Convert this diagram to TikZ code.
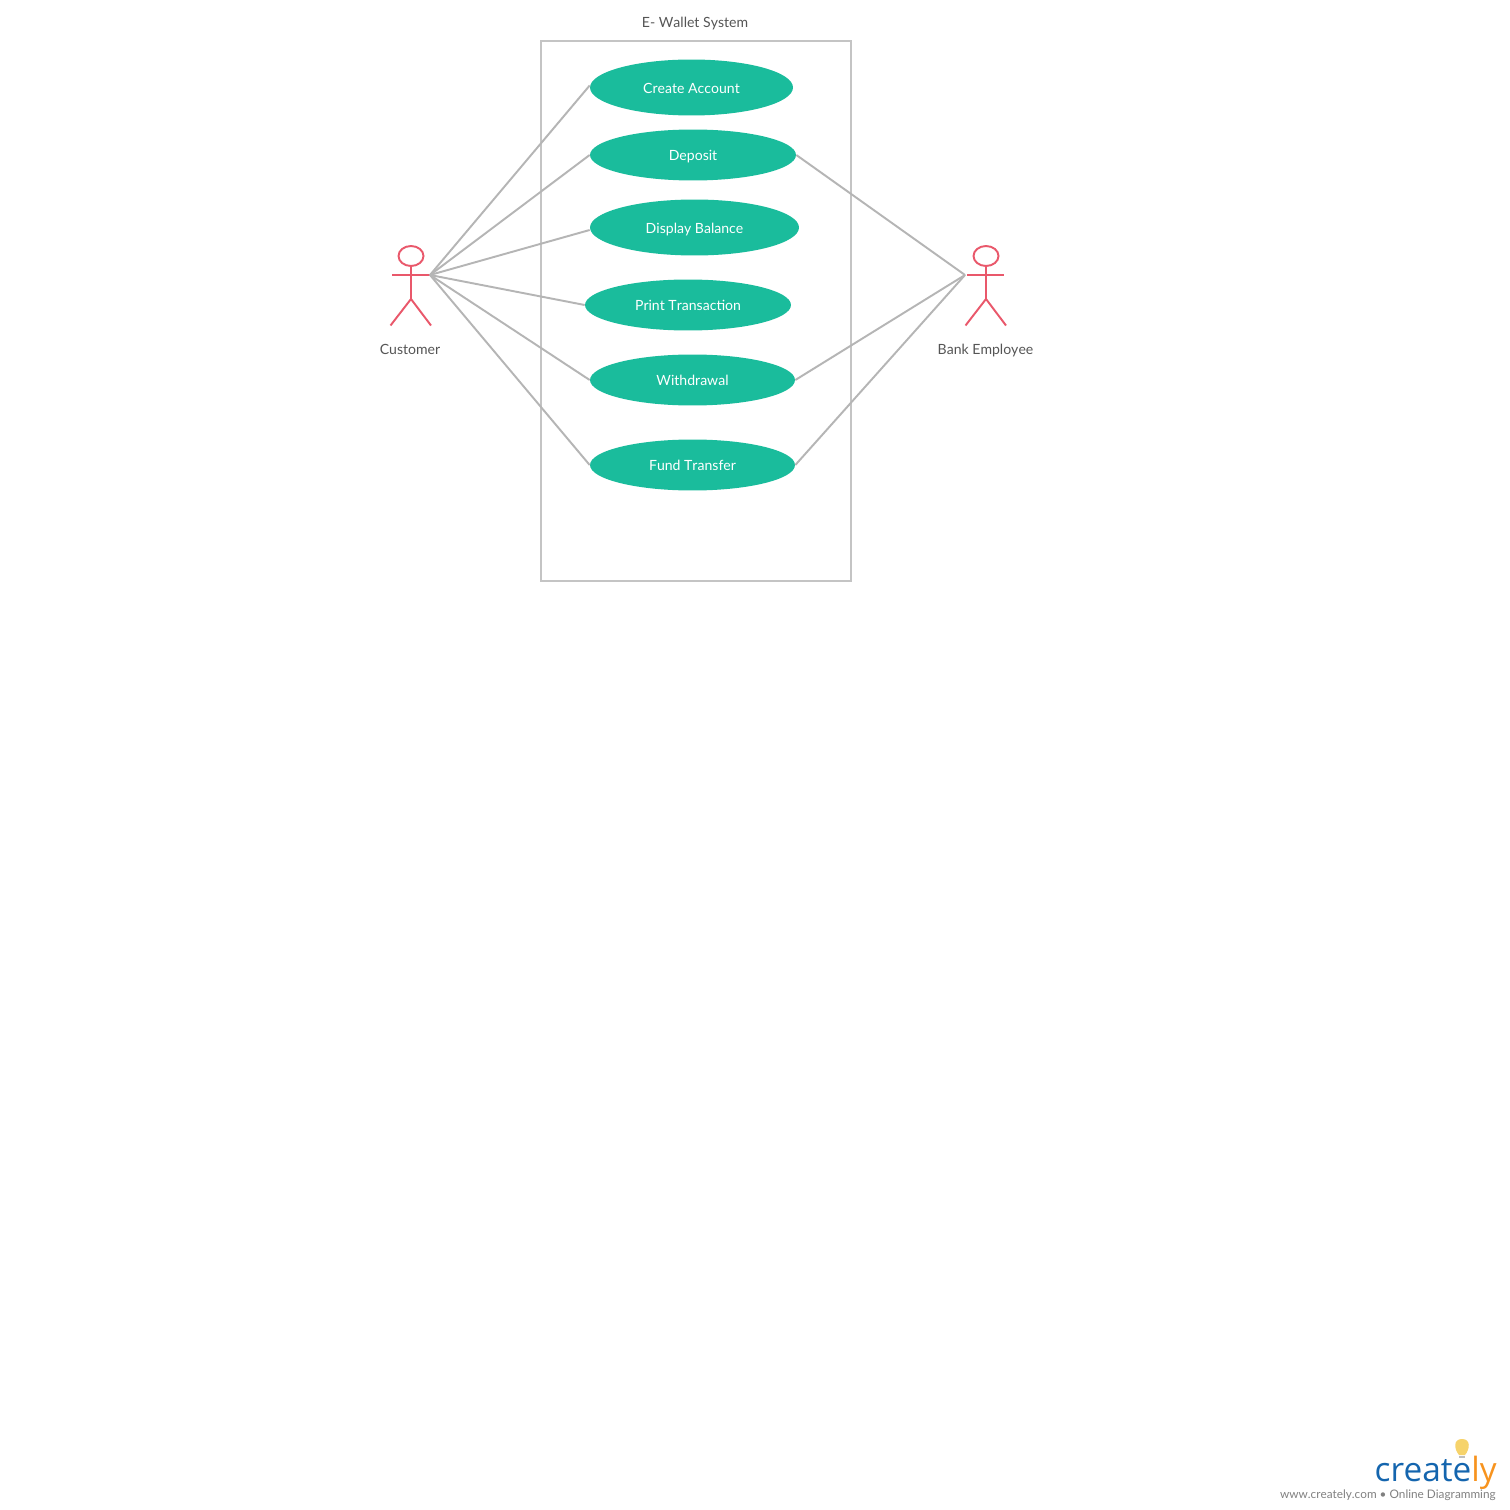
\documentclass[tikz,border=0pt]{standalone}
\usepackage{fontspec}
\setmainfont{Lato}[Kerning=Off]
\newfontfamily\logofont{Open Sans}
\usepackage{xcolor}
\usetikzlibrary{shapes.geometric, positioning}
\definecolor{ucgreen}{HTML}{1ABC9C}
\definecolor{actorred}{HTML}{E9586B}
\definecolor{linkgray}{HTML}{B5B5B5}
\definecolor{framegray}{HTML}{C4C4C4}
\definecolor{labelgray}{HTML}{555555}
\definecolor{logoblue}{HTML}{1465AE}
\definecolor{logoorange}{HTML}{F7931E}
\definecolor{bulbyellow}{HTML}{F6D36B}

\begin{document}
\begin{tikzpicture}[
    x=0.02cm, y=-0.02cm,
    usecase/.style={ellipse, fill=ucgreen, inner sep=0pt, text=white, font=\fontsize{8}{10}\selectfont, align=center},
    usetext/.style={inner sep=0pt, text=white, font=\fontsize{8}{10}\selectfont, anchor=base},
    caption/.style={inner sep=0pt, text=labelgray, font=\fontsize{8}{10}\selectfont, anchor=base},
    frame/.style={draw=framegray, line width=1.1pt, fill=white},
    link/.style={draw=linkgray, line width=1.1pt},
    stick/.style={draw=actorred, line width=1.1pt},
]
\useasboundingbox (0,0) rectangle (1510,1510);

% ── System boundary ──
\node[caption] (title) at (695,28) {E- Wallet System};
\draw[frame] (541,41) rectangle (851,581);

% ── Actors ──
\coordinate (custhand) at (430,275);
\coordinate (bankhand) at (965,275);

\node[ellipse, stick, inner sep=0pt, minimum width=0.5cm, minimum height=0.4cm] (custhead) at (411,256) {};
\coordinate (custhip) at (411,299);
\draw[stick] (custhead) -- (custhip);
\draw[stick] (392,275) -- (custhand);
\draw[stick] (390.5,325.5) -- (custhip) -- (431,325.5);
\node[caption] (customer) at (410,355) {Customer};

\node[ellipse, stick, inner sep=0pt, minimum width=0.5cm, minimum height=0.4cm] (bankhead) at (986,256) {};
\coordinate (bankhip) at (986,299);
\draw[stick] (bankhead) -- (bankhip);
\draw[stick] (967,275) -- (1004,275);
\draw[stick] (965.5,325.5) -- (bankhip) -- (1006,325.5);
\node[caption] (employee) at (985.5,355) {Bank Employee};

% ── Use cases ──
\node[usecase, minimum width=4.06cm, minimum height=1.12cm] (create) at (691.5,87.5) {};
\node[usecase, minimum width=4.12cm, minimum height=1.02cm] (deposit) at (693,155) {};
\node[usecase, minimum width=4.18cm, minimum height=1.12cm] (balance) at (694.5,227.5) {};
\node[usecase, minimum width=4.12cm, minimum height=1.02cm] (print) at (688,305) {};
\node[usecase, minimum width=4.1cm, minimum height=1.02cm] (withdraw) at (692.5,380) {};
\node[usecase, minimum width=4.1cm, minimum height=1.02cm] (transfer) at (692.5,465) {};

\node[usetext] (createtext) at (691.5,94) {Create Account};
\node[usetext] (deposittext) at (693,161) {Deposit};
\node[usetext] (balancetext) at (694.5,234) {Display Balance};
\node[usetext] (printtext) at (688,311) {Print Transaction};
\node[usetext] (withdrawtext) at (692.5,385) {Withdrawal};
\node[usetext] (transfertext) at (692.5,470) {Fund Transfer};

% ── Links ──
\draw[link] (custhand) -- ([yshift=0.04cm]create.west);
\draw[link] (custhand) -- (deposit.west);
\draw[link] (custhand) -- ([yshift=-0.05cm]balance.west);
\draw[link] (custhand) -- (print.west);
\draw[link] (custhand) -- (withdraw.west);
\draw[link] (custhand) -- (transfer.west);

\draw[link] (bankhand) -- (deposit.east);
\draw[link] (bankhand) -- (withdraw.east);
\draw[link] (bankhand) -- (transfer.east);

% ── Logo ──
\fill[bulbyellow] (1462,1439) .. controls (1453,1439) and (1454,1449) .. (1459,1455) -- (1465,1455) .. controls (1470,1449) and (1471,1439) .. (1462,1439) -- cycle;
\fill[gray!50] (1459,1455.5) rectangle (1465,1458);
\node[inner sep=0pt, anchor=base east, font=\logofont\fontsize{19}{22}\selectfont] (logo) at (1497,1481) {\textcolor{logoblue}{create}\textcolor{logoorange}{ly}};
\node[inner sep=0pt, anchor=base east, text=gray, font=\fontsize{6.7}{8}\selectfont] (weblabel) at (1496,1498) {www.creately.com • Online Diagramming};
\end{tikzpicture}
\end{document}
